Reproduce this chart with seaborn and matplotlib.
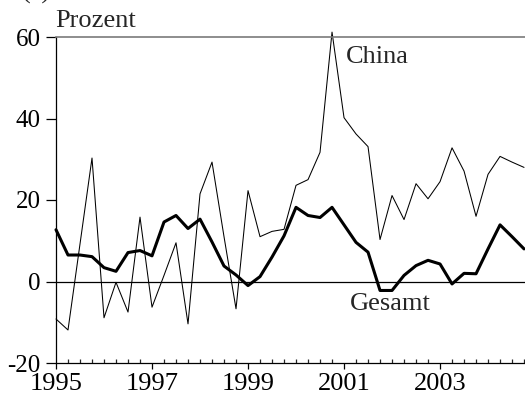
import numpy as np
import pandas as pd
import matplotlib
matplotlib.use("Agg")
import matplotlib.pyplot as plt
import seaborn as sns
from matplotlib.ticker import MultipleLocator

# Quarterly growth rates, in percent (1995Q1 - 2004Q4)
years = [1995, 1996, 1997, 1998, 1999, 2000, 2001, 2002, 2003, 2004]
gesamt = [12.7, 6.5, 6.5, 6.1,
          3.4, 2.5, 7.1, 7.6,
          6.3, 14.6, 16.2, 13.0,
          15.3, 9.7, 3.8, 1.6,
          -1.0, 1.2, 6.0, 11.2,
          18.2, 16.2, 15.7, 18.2,
          13.9, 9.6, 7.2, -2.2,
          -2.2, 1.5, 3.9, 5.2,
          4.3, -0.6, 2.0, 1.9,
          8.0, 13.9, 11.0, 8.0]
china = [-9.2, -11.9, 9.2, 30.3,
         -8.9, -0.2, -7.5, 15.8,
         -6.3, 1.5, 9.5, -10.4,
         21.5, 29.3, 11.0, -6.7,
         22.3, 11.0, 12.3, 12.8,
         23.6, 25.0, 31.7, 61.2,
         40.2, 36.2, 33.1, 10.3,
         21.1, 15.2, 24.0, 20.3,
         24.5, 32.8, 27.1, 16.0,
         26.3, 30.7, 29.3, 28.0]
year_ticks = [1995, 1997, 1999, 2001, 2003]
y_ticks = [-20, 0, 20, 40, 60]

quarters = [y + q / 4 for y in years for q in range(4)]
df = pd.DataFrame({"t": quarters, "Gesamt": gesamt, "China": china})

sns.set_style("ticks")
plt.rcParams["font.family"] = ["Liberation Serif", "DejaVu Serif"]
plt.rcParams["font.size"] = 19

fig = plt.figure(figsize=(5.25, 4.01), dpi=100)
ax = fig.add_axes([56 / 525, 1 - 363 / 401, 1 - 56 / 525, (363 - 37) / 401])

sns.lineplot(data=df, x="t", y="China", color="black", linewidth=0.75, ax=ax, clip_on=False)
sns.lineplot(data=df, x="t", y="Gesamt", color="black", linewidth=2.2, ax=ax, clip_on=False)
ax.axhline(0, color="black", linewidth=0.9)

ax.set_xlim(1995, 2004.77)
ax.set_ylim(-20, 60)
ax.set_xticks(year_ticks)
ax.set_xticklabels([str(y) for y in year_ticks], fontsize=19)
ax.xaxis.set_minor_locator(MultipleLocator(0.25))
ax.set_yticks(y_ticks)
ax.set_yticklabels([str(v) for v in y_ticks], fontsize=18)
ax.tick_params(axis="x", which="major", direction="out", length=4, width=0.9, pad=3.5, colors="black")
ax.tick_params(axis="x", which="minor", direction="in", length=3, width=0.9)
ax.tick_params(axis="y", which="major", direction="out", length=7, width=0.9, pad=4, colors="black")
ax.set_xlabel("")
ax.set_ylabel("")

for s in ["left", "bottom"]:
    ax.spines[s].set_color("black")
    ax.spines[s].set_linewidth(0.9)
ax.spines["top"].set_color("#7a7a7a")
ax.spines["top"].set_linewidth(1.2)
ax.spines["right"].set_visible(False)

ax.text(2001.04, 53.7, "China", va="baseline", ha="left")
ax.text(2001.12, -2.9, "Gesamt", va="top", ha="left")
fig.text(55 / 525, 1 - 27 / 401, "Prozent", va="baseline", ha="left")
fig.text(22 / 525, 1 - 4 / 401, "(a)", va="bottom", ha="left")

fig.savefig("out.png", dpi=100)
